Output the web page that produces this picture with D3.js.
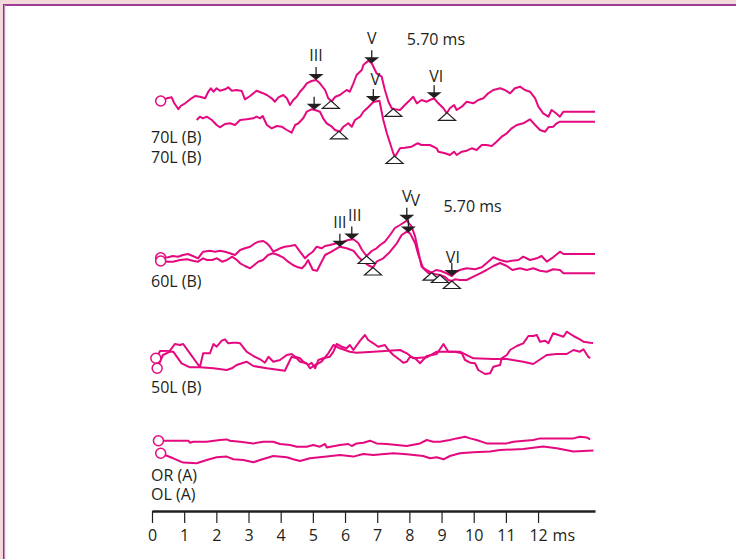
<!DOCTYPE html>
<html lang="en">
<head>
<meta charset="utf-8">
<title>ABR traces</title>
<script src="https://d3js.org/d3.v7.min.js"></script>
<style>
body{margin:0;background:#fff;}
text{font-family:"Open Sans",sans-serif;font-size:16px;fill:#231f20;}
</style>
</head>
<body>
<div id="chart"></div>
<script>
// traces: [time ms, amplitude (arbitrary units)]
var trace70a = [[0.27,0],[0.46,2.7],[0.61,3.7],[0.69,-2],[0.82,-8.3],[0.89,-5],[1.03,-2.3],[1.23,2.7],[1.34,5],[1.49,4.3],[1.65,2.7],[1.75,9.3],[1.83,12.7],[1.91,9.3],[2.01,12.7],[2.11,10.3],[2.27,11.7],[2.37,13.7],[2.48,10.3],[2.63,11],[2.79,10],[2.89,1.7],[3.05,5],[3.25,10.3],[3.41,8.3],[3.57,6],[3.72,2.7],[3.82,-0.7],[3.93,3.7],[4.08,6],[4.19,2.7],[4.29,-4],[4.39,1],[4.50,4.3],[4.60,9.3],[4.70,12.7],[4.81,17.7],[4.96,20],[5.10,21],[5.22,17.7],[5.38,11],[5.48,2.7],[5.58,-0.5],[5.70,4.3],[5.84,6],[6.05,11],[6.15,9.3],[6.26,17.7],[6.36,26],[6.52,31],[6.57,36],[6.72,40.3],[6.83,37.7],[6.98,27.7],[7.14,24.3],[7.24,11],[7.35,-0.7],[7.45,-7.3],[7.55,-8.3],[7.71,-9],[7.86,-4],[8.02,1],[8.12,4.3],[8.23,-2.3],[8.38,1],[8.54,-0.7],[8.64,1],[8.77,2.7],[8.90,-2.3],[9.06,-7.3],[9.16,-12.3],[9.26,-7.3],[9.39,-4],[9.47,-9],[9.63,-5.7],[9.78,-0.7],[9.99,-2.3],[10.14,1],[10.30,2.7],[10.45,7.7],[10.61,11],[10.82,12.7],[10.97,11],[11.13,7.7],[11.28,12.7],[11.44,14.3],[11.59,11],[11.75,9.3],[11.91,2.7],[12.01,-5.7],[12.16,-12.3],[12.32,-15.7],[12.42,-9],[12.56,-12.3],[12.68,-15.7],[12.79,-10.7],[13.77,-10.7]]
var trace70b = [[1.39,0],[1.49,3.3],[1.58,1.7],[1.70,3.3],[1.86,0],[2.01,-5],[2.11,-7.3],[2.27,-4],[2.42,-3.3],[2.58,-5],[2.74,0],[2.94,0.7],[3.15,1.7],[3.25,3.3],[3.36,1.7],[3.44,4],[3.57,-5],[3.72,-8.3],[3.88,-6],[4.03,-6.7],[4.19,-10],[4.34,-12.7],[4.45,-5],[4.55,-3.3],[4.70,1.7],[4.81,8.3],[4.96,10.7],[5.07,10],[5.22,8.3],[5.32,1.7],[5.43,-3.3],[5.59,-6.7],[5.69,-10],[5.84,-11.7],[5.95,-6.7],[6.10,-3.3],[6.21,-6.7],[6.31,0],[6.47,3.3],[6.57,8.3],[6.72,12.7],[6.88,18],[7.07,19.3],[7.19,0],[7.30,-13.3],[7.40,-23.3],[7.50,-33.3],[7.55,-36.7],[7.71,-28.3],[7.86,-27.7],[8.07,-26.7],[8.25,-23.3],[8.38,-25],[8.64,-25],[8.85,-28.3],[8.90,-31.7],[9.11,-33.3],[9.26,-35],[9.39,-31.7],[9.47,-35],[9.63,-31.7],[9.78,-30.7],[9.94,-28.3],[10.09,-30],[10.25,-25],[10.40,-25],[10.56,-26],[10.71,-21.7],[10.87,-16.7],[11.03,-13.3],[11.18,-8.3],[11.34,-5],[11.54,-3.3],[11.75,0.7],[11.91,-5],[12.06,-10],[12.22,-11.7],[12.32,-7.3],[12.47,-6.7],[12.58,-3.3],[12.68,-1.7],[13.77,-1.7]]
var trace60a = [[0.27,0],[0.50,0.4],[0.65,1.7],[0.81,1],[0.96,2.7],[1.12,3.7],[1.27,1.7],[1.43,-0.6],[1.59,6],[1.80,7],[1.96,6],[2.11,7],[2.27,6],[2.42,4.4],[2.58,2.7],[2.74,7.7],[2.89,9.4],[3.05,11],[3.20,14.4],[3.31,16],[3.46,16.7],[3.57,14.4],[3.67,11],[3.77,6],[3.88,7.7],[3.98,9.4],[4.13,11],[4.29,11.7],[4.45,12.7],[4.60,6],[4.76,-0.6],[4.86,2.7],[5.00,6],[5.12,11],[5.27,9.4],[5.38,11.7],[5.53,12.7],[5.74,14.4],[5.95,16],[6.10,17.7],[6.26,18.4],[6.41,14.7],[6.53,7.7],[6.67,1.7],[6.83,6.7],[6.98,9.4],[7.09,12.7],[7.24,16],[7.40,22.7],[7.55,29.7],[7.71,32.7],[7.92,37],[8.07,31],[8.18,21],[8.28,6],[8.38,-9],[8.54,-12.3],[8.69,-15],[8.83,-12.3],[8.98,-13.3],[9.14,-15.3],[9.32,-18.3],[9.45,-14.3],[9.57,-12.3],[9.78,-10.6],[10.04,-11.6],[10.25,-9.6],[10.45,-4],[10.61,0.4],[10.82,-2.3],[11.03,-4],[11.18,-3],[11.39,-2.3],[11.54,1],[11.75,-2.3],[11.96,-0.6],[12.11,1.7],[12.27,-4],[12.47,0.4],[12.68,6],[12.79,3.7],[13.77,3.7]]
var trace60b = [[0.27,0],[0.50,-0.7],[0.65,-0.7],[0.87,1],[1.09,1.7],[1.27,0.3],[1.43,-0.7],[1.59,2.7],[1.71,1],[1.87,1],[2.02,2.7],[2.18,-0.7],[2.33,1],[2.49,4.3],[2.64,1],[2.74,-2.3],[2.89,-5],[3.05,-7.3],[3.14,-5],[3.30,-0.7],[3.45,1],[3.61,6],[3.76,7.7],[3.92,6],[4.07,3.7],[4.23,-0.7],[4.38,-4],[4.54,-6.3],[4.66,-7.3],[4.76,-4],[4.85,1],[5.00,-9],[5.13,-9.7],[5.22,-4],[5.38,6],[5.58,9.3],[5.84,14.3],[6.05,12.7],[6.26,10.3],[6.41,4.3],[6.57,-0.7],[6.71,-4],[6.87,-6.5],[6.98,-0.7],[7.19,2.7],[7.40,9.3],[7.61,17.7],[7.76,26],[7.92,29.3],[8.02,27.7],[8.18,17.7],[8.28,6],[8.43,-7.3],[8.59,-12],[8.77,-13],[8.95,-14],[9.11,-16],[9.21,-19],[9.32,-20],[9.42,-18.3],[9.57,-19],[9.78,-19],[9.99,-15.7],[10.20,-12.3],[10.40,-9],[10.61,-5],[10.82,-2],[11.03,-5],[11.20,-9],[11.44,-7.3],[11.65,-9],[11.85,-7.3],[12.06,-9.7],[12.27,-10.7],[12.47,-8.3],[12.68,-9],[12.79,-12.3],[13.77,-12.3]]
var trace50a = [[0.12,0],[0.25,7.3],[0.56,7.6],[0.71,14.3],[0.87,13.3],[0.97,14.3],[1.18,5],[1.44,-6.7],[1.49,-8.7],[1.59,5],[1.80,5],[1.91,14.3],[2.01,11.6],[2.17,17.6],[2.27,19],[2.37,15],[2.53,15.6],[2.63,15.6],[2.74,15],[2.94,6.6],[3.15,2.3],[3.36,-1],[3.51,-4.4],[3.62,1.6],[3.77,-3.4],[3.98,-1.7],[4.19,3.3],[4.34,4.3],[4.45,1.6],[4.60,0],[4.70,-3.4],[4.86,-6.7],[4.96,-4.4],[5.07,-10],[5.17,-1.7],[5.32,0],[5.53,1.6],[5.64,6.6],[5.74,14.3],[5.90,11.6],[6.05,10],[6.15,13.3],[6.26,8.3],[6.47,17.6],[6.62,23.3],[6.72,18.3],[6.88,15],[7.03,11.6],[7.24,13.3],[7.35,8.3],[7.50,3.3],[7.71,-1.7],[7.81,-4.4],[7.92,-3.4],[8.02,1.6],[8.18,0],[8.33,-5],[8.54,2.3],[8.85,4.3],[9.06,14.3],[9.21,6.6],[9.42,6.6],[9.63,5],[9.73,-1.7],[9.89,-4.4],[10.04,-5],[10.14,-11.7],[10.35,-15.7],[10.51,-15],[10.61,-8.4],[10.82,-6.7],[10.87,0],[11.03,3.3],[11.13,8.3],[11.34,12.3],[11.54,15],[11.70,22.3],[11.85,22.3],[11.96,23.3],[12.06,16.6],[12.22,17.6],[12.32,15],[12.47,25],[12.63,23.3],[12.79,21.6],[12.89,26.6],[13.10,22.3],[13.30,19],[13.41,16.6],[13.62,15.6],[13.71,15.3]]
var trace50b = [[0.16,0],[0.34,13.3],[0.56,16.6],[0.66,16.6],[0.77,11.6],[0.92,5],[1.18,1],[1.49,1],[1.91,0],[2.32,-1.7],[2.48,0],[2.63,3.3],[2.94,6.6],[3.15,2.3],[3.57,0],[4.13,-2.4],[4.34,11.6],[4.50,10],[4.60,6.6],[4.81,5],[4.91,0],[5.07,3.3],[5.27,6.6],[5.48,15],[5.64,23.3],[5.84,20],[6.15,16.6],[6.36,15.6],[6.88,16.6],[7.71,18.3],[7.92,15],[8.12,10],[8.54,11],[8.85,16.6],[9.57,16.6],[9.99,10],[10.61,9.3],[11.03,9.3],[11.54,6.6],[11.85,4.3],[12.27,13.3],[12.58,14.3],[12.89,14.3],[13.10,18.3],[13.30,16.6],[13.41,19],[13.56,11.6],[13.62,10]]
var traceOR = [[0.20,0],[0.40,0],[1.13,0],[1.18,-2],[1.28,-1],[1.70,-1],[2.11,0.7],[2.32,1.3],[2.42,0],[2.74,-1],[3.15,-2.7],[3.46,-1],[3.77,-1],[3.98,-3.3],[4.29,-4.3],[4.50,-6],[4.81,-6],[5.01,-4.3],[5.22,-6],[5.38,-3.3],[5.43,-6.7],[5.84,-4.3],[6.10,-3.3],[6.21,-5.3],[6.36,-2.7],[6.57,-2],[6.78,0],[6.98,-2.7],[7.30,-3.3],[7.92,-5.3],[8.33,-2.7],[8.54,0.7],[8.74,-1],[8.95,-1],[9.26,0.7],[9.47,2.3],[9.73,4],[9.89,2.3],[10.09,0.7],[10.40,-2.7],[11.03,-2.7],[11.23,-1],[11.85,0.7],[12.06,2.3],[12.27,2.3],[13.10,2.3],[13.30,4],[13.51,3.3],[13.62,1.3]]
var traceOL = [[0.27,0],[0.40,-1.7],[0.66,-5],[0.97,-9.3],[1.39,-10],[1.70,-6.7],[2.01,-4],[2.32,-3.3],[2.53,-6],[2.84,-6.7],[3.15,-9],[3.36,-6.7],[3.77,-2.7],[4.19,-4],[4.39,-6],[4.60,-7.7],[4.91,-5],[5.43,-3.3],[5.84,-1.7],[6.26,-3.3],[6.57,-0.7],[6.88,-1.7],[7.50,0],[7.92,-1],[8.43,-2.7],[8.64,-5],[8.85,-4],[9.06,-6],[9.26,-2.7],[9.57,0],[9.99,1],[10.51,1.7],[10.82,3.3],[11.54,4.3],[12.16,6.7],[12.58,5],[13.10,1.7],[13.72,2.7]]

var tickValues = [0,1,2,3,4,5,6,7,8,9,10,11,12]
// row labels, stacked pairs share one text block
var rowLabels = [["70L (B)", "70L (B)"], ["60L (B)"], ["50L (B)"], ["OR (A)", "OL (A)"]]
// peak arrows: [trace, ms, label]
var peakArrows = [["70a",5.10,"III"],["70a",6.83,"V"],["70a",8.77,"VI"],["70b",5.04,""],["70b",6.88,"V"],
    ["60b",5.84,"III"],["60a",6.21,"III"],["60a",7.92,"V"],["60b",7.97,"V"],["60a",9.32,"VI"]]
// troughs marked with open triangles: [trace, ms]
var troughs = [["70a",5.56],["70a",7.50],["70a",9.17],["70b",5.81],["70b",7.54],
    ["60a",6.67],["60b",6.87],["60a",8.69],["60b",8.95],["60b",9.32]]
var latencyNotes = [["70", 7.92, "5.70 ms"], ["60", 9.06, "5.70 ms"]]
var startCircles = ["70a","60a","60b","50a","50b","OR","OL"]

var traces = {"70a":trace70a,"70b":trace70b,"60a":trace60a,"60b":trace60b,
    "50a":trace50a,"50b":trace50b,"OR":traceOR,"OL":traceOL}

// layout
var w = 736, h = 559
var baseline = {"70a":101,"70b":120,"60a":257.7,"60b":261,"50a":358.3,"50b":368.3,"OR":440.7,"OL":453.3}
var labelY = [143.3, 287, 392.7, 480.7]
var rowGap = 19.4
var noteY = {"70":45, "60":212.3}
var nudge = {"70a:VI":[2,3],"70b:V":[2,2],"60a:III":[3,0],"60b:V":[7,-8],"60a:VI":[1,6]}
var pink = "#e5097f", ink = "#231f20"

var svg = d3.select("#chart").append("svg").attr("width", w).attr("height", h)

// page frame
svg.append("rect").attr("x",0).attr("y",0).attr("width",w).attr("height",4).attr("fill","#f4d9da")
svg.append("rect").attr("x",0).attr("y",0).attr("width",3).attr("height",h).attr("fill","#f4d9da")
svg.append("rect").attr("x",3).attr("y",4).attr("width",w).attr("height",2).attr("fill","#9c3b93")
svg.append("rect").attr("x",3).attr("y",4).attr("width",1).attr("height",h).attr("fill","#8a2f83")
svg.append("rect").attr("x",4).attr("y",5).attr("width",1.2).attr("height",h).attr("fill","#c98ac3")

var x = d3.scaleLinear().domain([0,13.77]).range([152,595])
var amp = d3.scaleLinear().domain([-50,50]).range([50,-50])

function yOf(id, v){ return baseline[id] + amp(v) }
function valueAt(id, t){
    var d = traces[id]
    var i = d3.bisector(function(p){ return p[0] }).left(d, t)
    if(i <= 0) return d[0][1]
    if(i >= d.length) return d[d.length-1][1]
    var a = d[i-1], b = d[i]
    return a[1] + (b[1]-a[1]) * (t-a[0]) / (b[0]-a[0])
}

var line = d3.line()

Object.keys(traces).forEach(function(id){
    svg.append("path")
        .datum(traces[id])
        .attr("d", line.x(function(d){ return x(d[0]) }).y(function(d){ return yOf(id, d[1]) }))
        .attr("fill","none")
        .attr("stroke",pink)
        .attr("stroke-width",2)
        .attr("stroke-linejoin","round")
})

svg.selectAll("circle.start")
    .data(startCircles)
    .enter()
    .append("circle")
    .attr("class","start")
    .attr("cx",function(id){ return x(traces[id][0][0]) })
    .attr("cy",function(id){ return yOf(id, traces[id][0][1]) })
    .attr("r",5)
    .attr("fill","#fff")
    .attr("stroke",pink)
    .attr("stroke-width",1.5)

// open triangles at troughs
svg.selectAll("path.trough")
    .data(troughs)
    .enter()
    .append("path")
    .attr("class","trough")
    .attr("transform",function(d){ return "translate(" + x(d[1]) + "," + yOf(d[0], valueAt(d[0], d[1])) + ")" })
    .attr("d","M0,0L-8.5,7.5L8.5,7.5Z")
    .attr("fill","#fff")
    .attr("stroke",ink)
    .attr("stroke-width",1.2)
    .attr("stroke-linejoin","miter")

// filled arrows at peaks
var arrows = svg.selectAll("g.arrow")
    .data(peakArrows)
    .enter()
    .append("g")
    .attr("class","arrow")
    .attr("transform",function(d){ return "translate(" + x(d[1]) + "," + yOf(d[0], valueAt(d[0], d[1])) + ")" })
arrows.append("line")
    .attr("x1",0).attr("x2",0).attr("y1",-13).attr("y2",-5)
    .attr("stroke",ink).attr("stroke-width",1.3)
arrows.append("path")
    .attr("d","M0,0L-7.5,-6L7.5,-6Z")
    .attr("fill",ink)
arrows.append("text")
    .attr("text-anchor","middle")
    .attr("x",function(d){ var n = nudge[d[0]+":"+d[2]]; return n ? n[0] : 0 })
    .attr("y",function(d){ var n = nudge[d[0]+":"+d[2]]; return -19 + (n ? n[1] : 0) })
    .text(function(d){ return d[2] })

svg.selectAll("text.note")
    .data(latencyNotes)
    .enter()
    .append("text")
    .attr("class","note")
    .attr("x",function(d){ return x(d[1]) })
    .attr("y",function(d){ return noteY[d[0]] })
    .text(function(d){ return d[2] })

svg.selectAll("text.row")
    .data(rowLabels)
    .enter()
    .append("text")
    .attr("class","row")
    .attr("x",151)
    .attr("y",function(d,i){ return labelY[i] })
    .selectAll("tspan")
    .data(function(d){ return d })
    .enter()
    .append("tspan")
    .attr("x",151)
    .attr("dy",function(d,i){ return i ? rowGap : 0 })
    .text(function(d){ return d })

// time axis
var xAxis = d3.axisBottom(x)
    .tickValues(tickValues)
    .tickSize(12)
    .tickSizeOuter(0)
    .tickPadding(7)
var ax = svg.append("g")
    .attr("transform","translate(0,511)")
    .call(xAxis)
ax.select(".domain").attr("stroke",ink).attr("stroke-width",2.6)
ax.selectAll(".tick line").attr("stroke",ink).attr("stroke-width",1.2)
ax.selectAll(".tick text").style("fill",ink)
ax.append("text")
    .attr("x",x(12.8))
    .attr("y",29.7)
    .text("ms")
</script>
</body>
</html>
